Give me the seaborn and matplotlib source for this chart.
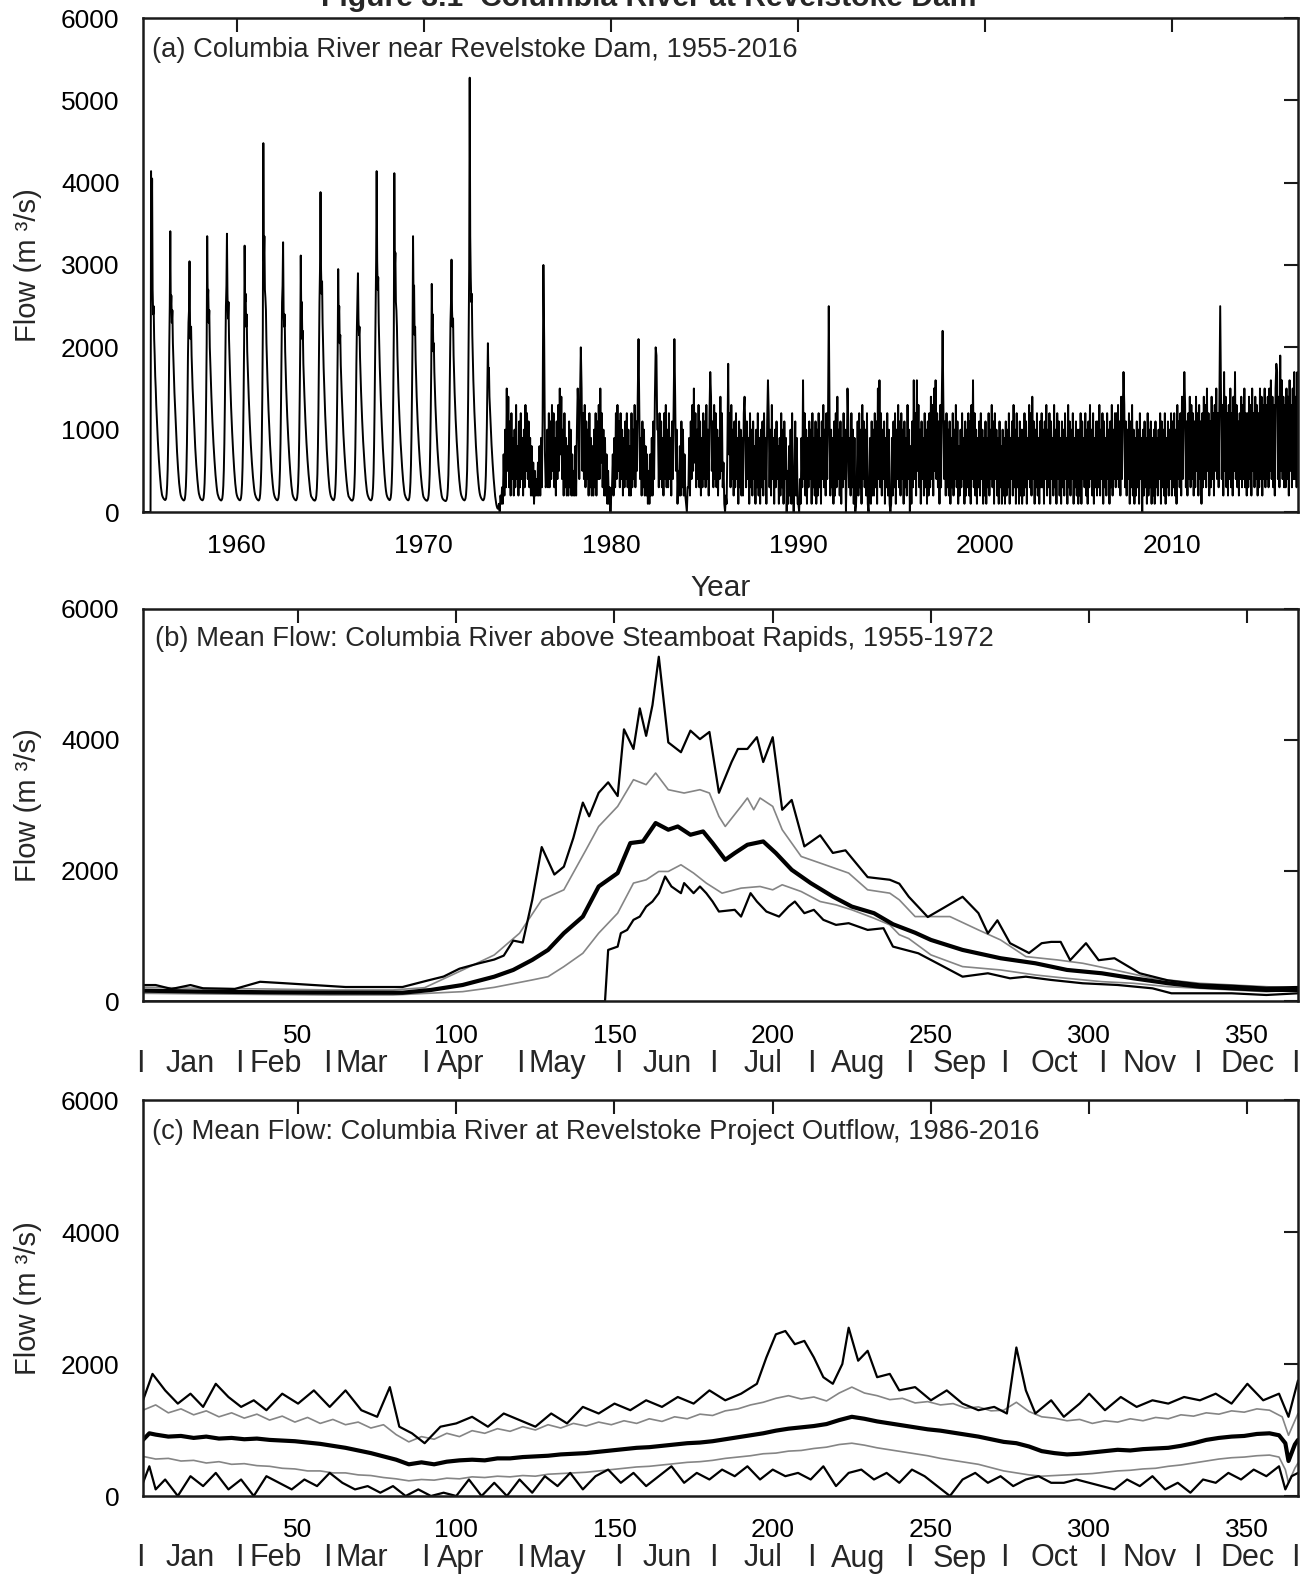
import numpy as np
import matplotlib
matplotlib.use("Agg")
import matplotlib.pyplot as plt
import seaborn as sns

# ------------------------------------------------------------------
# (a) Daily flow, Columbia River near Revelstoke Dam (m3/s)
# Pre-regulation years: 36 ten-day readings per year
# ------------------------------------------------------------------
PRE_1955_1964 = [
    [0, 0, 0, 0, 0, 0, 0, 0, 0, 0, 0, 0, 0, 0, 0, 4140, 2900, 4050, 2700, 2400, 2500, 2100, 1900, 1650, 1500, 1300, 1150, 1000, 870, 750, 640, 540, 450, 370, 300, 250],
    [210, 190, 175, 165, 155, 150, 145, 150, 165, 220, 330, 520, 850, 1350, 2000, 2500, 3410, 2450, 2630, 2300, 2450, 2050, 1850, 1650, 1450, 1300, 1120, 980, 850, 730, 620, 520, 430, 350, 290, 240],
    [205, 185, 170, 160, 150, 145, 140, 145, 160, 210, 310, 500, 820, 1300, 1900, 2300, 2450, 3045, 2300, 2100, 2250, 1900, 1700, 1500, 1350, 1180, 1040, 900, 780, 670, 570, 480, 400, 330, 270, 225],
    [200, 180, 165, 155, 148, 145, 142, 150, 170, 230, 350, 560, 900, 1400, 2050, 3350, 2550, 2700, 2300, 2450, 2000, 1800, 1600, 1420, 1250, 1100, 960, 840, 730, 630, 540, 450, 380, 315, 260, 220],
    [200, 180, 165, 155, 148, 142, 140, 148, 165, 215, 320, 510, 830, 1300, 1950, 2500, 2750, 3380, 2650, 2350, 2550, 2100, 1850, 1650, 1450, 1270, 1110, 970, 840, 720, 610, 510, 420, 345, 285, 235],
    [205, 185, 170, 160, 150, 145, 142, 150, 170, 225, 340, 540, 870, 1380, 2050, 3235, 2550, 2650, 2250, 2400, 1950, 1750, 1550, 1380, 1210, 1070, 930, 810, 700, 600, 510, 430, 360, 300, 250, 215],
    [195, 178, 165, 155, 148, 143, 140, 148, 165, 220, 330, 520, 860, 1400, 2200, 4480, 3050, 3350, 2700, 2600, 2450, 2050, 1800, 1600, 1400, 1230, 1080, 940, 810, 700, 590, 490, 410, 340, 280, 235],
    [205, 185, 170, 160, 150, 145, 142, 150, 170, 220, 330, 510, 830, 1320, 1950, 2550, 2750, 3276, 2450, 2250, 2400, 1950, 1700, 1500, 1320, 1160, 1020, 890, 770, 660, 560, 470, 390, 320, 265, 220],
    [195, 178, 165, 155, 148, 143, 142, 152, 175, 235, 350, 550, 900, 1400, 2050, 3115, 2350, 2550, 2100, 2200, 1800, 1600, 1420, 1250, 1100, 960, 840, 730, 630, 540, 460, 390, 320, 265, 220, 190],
    [180, 168, 158, 150, 143, 140, 138, 145, 160, 200, 290, 460, 780, 1250, 1900, 2550, 2950, 3885, 2950, 2650, 2800, 2300, 2000, 1750, 1550, 1350, 1180, 1030, 890, 760, 650, 540, 450, 370, 300, 250],
]
PRE_1965_1973 = [
    [215, 190, 175, 163, 153, 147, 143, 152, 172, 225, 340, 530, 860, 1350, 1950, 2950, 2350, 2500, 2050, 2150, 1780, 1580, 1400, 1240, 1090, 950, 830, 720, 620, 530, 450, 380, 315, 260, 220, 190],
    [180, 168, 158, 150, 143, 140, 138, 146, 162, 205, 300, 470, 780, 1220, 1800, 2250, 2550, 2900, 2350, 2150, 2250, 1880, 1650, 1460, 1290, 1130, 990, 860, 750, 640, 550, 460, 385, 320, 265, 225],
    [200, 182, 168, 157, 149, 144, 141, 148, 163, 205, 295, 470, 790, 1260, 1900, 2600, 3050, 4140, 3050, 2700, 2850, 2300, 2000, 1760, 1550, 1360, 1190, 1040, 900, 770, 660, 550, 460, 380, 310, 255],
    [215, 192, 176, 164, 154, 148, 144, 153, 175, 230, 350, 560, 900, 1450, 2200, 4115, 2950, 3150, 2550, 2450, 2250, 1900, 1650, 1450, 1280, 1120, 980, 850, 740, 630, 540, 450, 375, 310, 255, 215],
    [195, 178, 165, 155, 148, 143, 142, 152, 178, 240, 360, 570, 930, 1450, 2100, 3350, 2550, 2750, 2150, 2250, 1850, 1600, 1400, 1230, 1080, 950, 830, 720, 620, 530, 450, 380, 315, 260, 215, 185],
    [172, 162, 154, 147, 141, 138, 137, 146, 163, 205, 300, 460, 770, 1200, 1750, 2770, 2250, 2400, 1950, 2050, 1700, 1480, 1300, 1140, 1000, 870, 760, 660, 570, 490, 420, 350, 290, 240, 200, 175],
    [160, 152, 146, 141, 137, 134, 133, 142, 158, 200, 290, 450, 760, 1200, 1800, 2300, 2550, 3065, 2450, 2250, 2350, 1900, 1650, 1450, 1280, 1120, 980, 860, 750, 640, 550, 460, 385, 320, 265, 225],
    [200, 182, 168, 157, 149, 144, 141, 150, 167, 215, 320, 500, 850, 1380, 2200, 2950, 5275, 3350, 2850, 2550, 2650, 2150, 1850, 1600, 1400, 1220, 1070, 930, 800, 690, 590, 490, 410, 340, 280, 235],
    [205, 185, 170, 160, 150, 145, 142, 150, 168, 210, 290, 440, 700, 1050, 1550, 2050, 1650, 1750, 1400, 1250, 1100, 950, 820, 700, 600, 500, 410, 330, 260, 190, 140, 100, 70, 50, 40, 50],
]

# Regulated years: half-month readings, hundreds of m3/s
REG_1974_1979 = [
    "1 0 2 1 3 1 7 2 10 3 15 5 14 3 11 2 12 4 9 2 10 3 13 4",
    "8 2 11 3 12 4 9 2 10 3 13 5 12 4 11 3 9 2 8 2 6 1 5 2",
    "4 2 6 2 8 2 9 3 11 30 21 7 3 4 10 3 12 3 11 4 13 5 12 3",
    "9 2 11 4 13 5 15 7 14 4 10 2 12 3 9 2 8 2 11 3 10 2 7 2",
    "5 2 8 2 10 15 12 4 14 20 15 5 12 4 13 3 11 4 10 2 12 3 9 2",
    "8 2 10 3 12 2 11 4 13 4 15 6 12 3 10 2 9 2 7 1 5 1 3 0",
]
REG_1980_1989 = [
    "2 3 7 2 9 3 12 4 13 5 11 3 12 4 10 2 9 3 11 4 12 3 10 2",
    "8 2 12 3 10 4 13 3 11 5 14 21 12 4 9 2 11 3 10 2 8 2 7 1",
    "5 1 7 2 9 2 11 4 14 20 19 10 10 3 12 4 11 3 9 2 12 4 13 3",
    "10 3 12 4 9 2 11 4 13 21 14 5 10 1 5 2 8 2 11 3 10 2 7 2",
    "1 0 3 3 9 2 11 4 13 5 15 6 12 3 10 4 13 3 11 2 9 3 12 4",
    "11 3 13 4 10 2 12 17 14 5 11 3 13 4 12 3 10 2 9 4 14 5 12 3",
    "6 1 0 2 1 8 18 7 12 3 13 4 10 2 11 3 12 4 9 1 11 3 10 2",
    "9 2 12 14 10 3 11 4 9 1 12 3 10 2 11 4 8 1 10 3 12 2 9 1",
    "10 3 11 2 12 4 9 1 11 16 12 3 10 2 13 4 9 1 10 3 11 4 8 1",
    "9 2 12 3 10 1 11 4 9 0 5 1 8 2 10 1 12 3 0 4 11 2 9 1",
]
REG_1990_1999 = [
    "1 0 4 1 9 3 16 4 12 2 10 1 9 3 11 4 10 1 12 3 9 2 11 1",
    "10 2 12 3 9 1 11 4 13 3 10 2 12 4 11 25 12 2 10 3 9 1 11 2",
    "12 3 14 4 10 2 11 1 9 3 12 4 10 0 5 15 11 3 9 2 12 3 10 1",
    "9 0 1 4 11 2 12 3 10 1 13 4 11 3 10 2 12 1 0 3 9 1 11 2",
    "10 2 12 3 11 1 15 4 16 3 12 2 10 4 11 1 9 3 12 2 10 1 0 1",
    "9 2 11 3 12 1 10 4 13 3 11 2 12 4 10 1 11 3 9 2 13 4 10 0",
    "8 1 11 3 16 4 12 2 16 5 13 3 10 1 11 4 9 2 12 3 10 1 11 2",
    "12 3 14 4 13 2 15 5 16 4 12 3 11 1 13 3 14 22 13 4 11 2 12 3",
    "10 2 11 1 9 3 12 2 10 4 13 3 11 1 8 2 10 3 12 4 9 1 11 2",
    "10 3 12 2 11 1 13 4 16 3 12 2 10 1 9 3 11 2 12 4 10 1 9 2",
]
REG_2000_2009 = [
    "11 1 9 3 12 2 10 4 13 3 11 1 12 4 10 2 9 1 11 3 8 1 10 2",
    "9 1 11 2 10 3 12 1 9 4 11 2 13 3 10 1 12 3 9 1 11 2 10 1",
    "10 2 12 3 11 1 9 4 13 3 12 2 14 4 11 1 10 3 12 2 9 1 11 3",
    "12 3 10 1 11 4 13 2 10 3 12 1 11 4 9 2 13 3 10 1 12 4 11 2",
    "9 1 11 3 10 2 12 4 9 1 13 3 11 2 10 4 12 1 9 3 11 2 10 1",
    "10 2 12 1 11 4 9 3 12 2 10 1 11 3 13 4 10 2 12 1 9 3 11 2",
    "11 3 13 2 10 4 12 1 11 3 9 2 12 4 10 1 11 3 13 2 10 4 12 3",
    "12 4 13 3 11 2 14 4 12 17 13 3 11 2 10 4 12 1 11 3 13 2 10 1",
    "9 2 11 3 10 1 12 4 9 0 10 2 11 3 9 1 12 2 10 3 11 1 9 2",
    "10 1 11 3 9 2 10 4 12 1 11 3 10 2 12 1 9 3 11 2 10 4 12 2",
]
REG_2010_2016 = [
    "11 3 12 2 10 1 13 4 11 3 12 2 14 4 12 17 13 3 11 2 12 4 14 3",
    "13 4 12 2 11 3 14 5 12 2 13 4 11 1 12 3 14 4 13 3 15 5 12 2",
    "11 3 14 4 12 2 13 5 15 4 12 3 14 25 15 4 13 2 17 5 14 3 12 2",
    "13 4 15 3 12 2 14 5 17 4 13 3 11 2 12 4 14 3 13 4 15 3 12 2",
    "12 3 14 4 13 2 15 5 12 3 14 4 13 2 12 3 15 4 14 2 13 4 15 3",
    "13 4 14 3 15 5 16 4 14 3 13 2 15 18 17 4 14 3 19 5 16 4 14 3",
    "13 3 15 4 14 2 16 5 13 3 15 4 17 4 14 3 17 4 15 3 14 4 13 3",
]

# ------------------------------------------------------------------
# (b) Columbia River above Steamboat Rapids, 1955-1972: (day, m3/s)
# ------------------------------------------------------------------
B_MAX = [(1, 250), (5, 250), (10, 190), (16, 250), (20, 200), (30, 190), (38, 300), (45, 280),
         (55, 250), (65, 220), (75, 220), (83, 220), (91, 320), (96, 380), (101, 500), (107, 580),
         (112, 640), (115, 700), (118, 930), (121, 900), (124, 1550), (127, 2360), (131, 1940),
         (134, 2060), (137, 2500), (140, 3040), (142, 2830), (145, 3190), (148, 3350), (151, 3140),
         (153, 4160), (156, 3860), (158, 4480), (160, 4060), (162, 4530), (164, 5270), (167, 3960),
         (171, 3810), (174, 4140), (177, 4010), (180, 4120), (183, 3190), (187, 3660), (189, 3860),
         (192, 3860), (195, 4040), (197, 3660), (200, 4040), (203, 2930), (206, 3080), (210, 2370),
         (215, 2540), (219, 2270), (223, 2310), (230, 1900), (237, 1860), (240, 1800), (243, 1600),
         (249, 1290), (254, 1430), (260, 1600), (265, 1350), (268, 1040), (271, 1240), (275, 890),
         (281, 740), (285, 890), (288, 910), (291, 910), (294, 630), (299, 890), (303, 630),
         (308, 660), (316, 430), (325, 320), (335, 260), (345, 240), (356, 210), (366, 220)]
B_UPPER = [(1, 216), (20, 200), (40, 190), (60, 175), (80, 175), (90, 210), (102, 480), (112, 710),
           (120, 1043), (127, 1553), (134, 1706), (141, 2318), (145, 2675), (151, 2982), (156, 3390),
           (160, 3314), (163, 3492), (167, 3237), (172, 3186), (177, 3237), (180, 3186), (183, 2829),
           (185, 2675), (190, 2982), (192, 3110), (194, 2931), (196, 3110), (200, 2982), (203, 2625),
           (209, 2216), (215, 2115), (224, 1962), (230, 1706), (237, 1655), (240, 1553), (245, 1297),
           (256, 1297), (265, 1093), (272, 940), (280, 685), (290, 634), (298, 583), (308, 481),
           (320, 353), (335, 277), (366, 200)]
B_MEAN = [(1, 164), (20, 150), (40, 140), (60, 135), (83, 133), (92, 175), (102, 251), (112, 378),
          (118, 481), (124, 634), (129, 787), (134, 1043), (140, 1297), (145, 1757), (151, 1962),
          (155, 2421), (159, 2446), (163, 2727), (167, 2625), (170, 2675), (174, 2548), (178, 2599),
          (181, 2421), (185, 2165), (188, 2268), (192, 2395), (197, 2446), (201, 2268), (206, 2012),
          (212, 1809), (219, 1603), (225, 1450), (232, 1349), (238, 1180), (245, 1050), (250, 940),
          (260, 787), (272, 660), (283, 583), (293, 481), (304, 430), (314, 353), (325, 277),
          (335, 225), (356, 175), (366, 175)]
B_LOWER = [(1, 124), (30, 110), (60, 98), (80, 98), (102, 149), (112, 215), (124, 328), (129, 378),
           (134, 532), (140, 736), (145, 1043), (151, 1349), (156, 1809), (160, 1859), (164, 1987),
           (167, 1987), (171, 2089), (175, 1962), (179, 1809), (184, 1655), (190, 1732), (196, 1757),
           (200, 1706), (203, 1783), (209, 1680), (215, 1527), (220, 1476), (225, 1400), (232, 1272),
           (237, 1170), (240, 1020), (243, 960), (250, 711), (260, 532), (272, 481), (283, 404),
           (293, 353), (304, 302), (314, 277), (325, 225), (335, 200), (356, 149), (366, 175)]
B_MIN = [(1, 0), (147, 0), (148, 787), (151, 838), (152, 1043), (154, 1093), (156, 1247), (158, 1297),
         (160, 1450), (162, 1527), (164, 1655), (166, 1910), (168, 1757), (171, 1655), (172, 1809),
         (175, 1655), (177, 1757), (179, 1655), (181, 1527), (183, 1374), (188, 1400), (190, 1297),
         (193, 1655), (195, 1527), (198, 1374), (202, 1297), (205, 1450), (207, 1527), (210, 1349),
         (213, 1400), (216, 1247), (220, 1170), (224, 1196), (230, 1093), (235, 1119), (238, 838),
         (242, 787), (246, 736), (254, 532), (260, 378), (268, 430), (275, 353), (280, 378),
         (288, 328), (298, 277), (309, 251), (320, 200), (326, 124), (345, 124), (356, 98), (366, 124)]

# ------------------------------------------------------------------
# (c) Revelstoke Project outflow, 1986-2016: (day, m3/s)
# ------------------------------------------------------------------
C_MAX = [(1, 1450), (4, 1850), (8, 1600), (12, 1400), (16, 1550), (20, 1350), (24, 1700), (28, 1500),
         (32, 1350), (36, 1450), (40, 1300), (45, 1550), (50, 1400), (55, 1600), (60, 1350), (65, 1600),
         (70, 1300), (75, 1200), (79, 1650), (82, 1050), (86, 950), (90, 800), (95, 1050), (100, 1100),
         (105, 1200), (110, 1050), (115, 1250), (120, 1150), (125, 1050), (130, 1250), (135, 1100),
         (140, 1350), (145, 1250), (150, 1400), (155, 1300), (160, 1450), (165, 1350), (170, 1500),
         (175, 1400), (180, 1600), (185, 1450), (190, 1550), (195, 1700), (198, 2100), (201, 2450),
         (204, 2500), (207, 2300), (210, 2350), (213, 2100), (216, 1800), (219, 1700), (222, 2000),
         (224, 2550), (227, 2050), (230, 2200), (233, 1800), (237, 1850), (240, 1600), (245, 1650),
         (250, 1450), (255, 1600), (260, 1400), (265, 1300), (270, 1350), (274, 1250), (277, 2250),
         (280, 1600), (283, 1250), (288, 1450), (292, 1200), (297, 1400), (300, 1550), (305, 1300),
         (310, 1500), (315, 1350), (320, 1450), (325, 1400), (330, 1500), (335, 1450), (340, 1550),
         (345, 1400), (350, 1700), (355, 1450), (360, 1550), (363, 1200), (366, 1750)]
C_UPPER = [(1, 1300), (5, 1380), (9, 1260), (13, 1320), (17, 1230), (21, 1290), (25, 1200), (29, 1260),
           (33, 1180), (37, 1240), (41, 1150), (45, 1210), (49, 1120), (53, 1190), (57, 1100), (61, 1160),
           (65, 1080), (69, 1120), (73, 1030), (77, 1080), (81, 930), (85, 820), (89, 900), (93, 860),
           (97, 950), (101, 900), (105, 990), (109, 950), (113, 1020), (117, 980), (121, 1050),
           (125, 1000), (129, 1080), (133, 1030), (137, 1100), (141, 1060), (145, 1120), (149, 1080),
           (153, 1140), (157, 1100), (161, 1170), (165, 1130), (169, 1200), (173, 1170), (177, 1240),
           (181, 1220), (185, 1290), (189, 1320), (193, 1380), (197, 1420), (201, 1480), (205, 1520),
           (209, 1470), (213, 1500), (217, 1440), (221, 1560), (225, 1650), (229, 1560), (233, 1520),
           (237, 1460), (241, 1480), (245, 1410), (249, 1430), (253, 1380), (257, 1400), (261, 1330),
           (265, 1350), (269, 1290), (273, 1300), (277, 1420), (281, 1280), (285, 1200), (289, 1180),
           (293, 1140), (297, 1160), (301, 1100), (305, 1140), (309, 1120), (313, 1170), (317, 1140),
           (321, 1190), (325, 1170), (329, 1230), (333, 1210), (337, 1260), (341, 1240), (345, 1290),
           (349, 1270), (353, 1320), (357, 1300), (361, 1200), (363, 920), (366, 1250)]
C_MEAN = [(1, 850), (3, 950), (5, 930), (9, 900), (13, 910), (17, 880), (21, 900), (25, 870), (29, 880),
          (33, 860), (37, 870), (41, 850), (45, 840), (49, 830), (53, 810), (57, 790), (61, 760), (65, 730),
          (69, 690), (73, 650), (77, 600), (81, 550), (85, 480), (89, 510), (93, 480), (97, 520), (101, 540),
          (105, 550), (109, 540), (113, 570), (117, 570), (121, 590), (125, 600), (129, 610), (133, 630),
          (137, 640), (141, 650), (145, 670), (149, 690), (153, 710), (157, 730), (161, 740), (165, 760),
          (169, 780), (173, 800), (177, 810), (181, 830), (185, 860), (189, 890), (193, 920), (197, 950),
          (201, 990), (205, 1020), (209, 1040), (213, 1060), (217, 1090), (221, 1150), (225, 1200),
          (229, 1170), (233, 1130), (237, 1100), (241, 1070), (245, 1040), (249, 1010), (253, 990),
          (257, 960), (261, 930), (265, 900), (269, 860), (273, 820), (277, 800), (281, 750), (285, 680),
          (289, 650), (293, 630), (297, 640), (301, 660), (305, 680), (309, 700), (313, 690), (317, 710),
          (321, 720), (325, 730), (329, 760), (333, 800), (337, 850), (341, 880), (345, 900), (349, 910),
          (353, 940), (357, 950), (360, 920), (362, 800), (363, 530), (365, 780), (366, 850)]
C_LOWER = [(1, 600), (5, 560), (9, 570), (13, 530), (17, 540), (21, 500), (25, 520), (29, 480), (33, 490),
           (37, 460), (41, 450), (45, 420), (49, 410), (53, 380), (57, 380), (61, 350), (65, 350), (69, 320),
           (73, 310), (77, 280), (81, 260), (85, 230), (89, 250), (93, 240), (97, 270), (101, 260),
           (105, 290), (109, 280), (113, 300), (117, 290), (121, 310), (125, 300), (129, 330), (133, 340),
           (137, 350), (141, 360), (145, 380), (149, 400), (153, 420), (157, 440), (161, 450), (165, 470),
           (169, 490), (173, 510), (177, 520), (181, 540), (185, 570), (189, 590), (193, 610), (197, 640),
           (201, 650), (205, 680), (209, 690), (213, 720), (217, 740), (221, 780), (225, 800), (229, 770),
           (233, 730), (237, 700), (241, 670), (245, 640), (249, 610), (253, 570), (257, 540), (261, 510),
           (265, 480), (269, 430), (273, 380), (277, 350), (281, 320), (285, 300), (289, 310), (293, 320),
           (297, 330), (301, 340), (305, 360), (309, 380), (313, 390), (317, 410), (321, 420), (325, 450),
           (329, 470), (333, 500), (337, 530), (341, 560), (345, 580), (349, 590), (353, 610), (357, 620),
           (360, 590), (362, 400), (363, 200), (365, 420), (366, 500)]
C_MIN = [(1, 200), (3, 450), (5, 100), (8, 250), (12, 0), (16, 300), (20, 150), (24, 350), (28, 100),
         (32, 250), (36, 0), (40, 300), (44, 200), (48, 100), (52, 250), (56, 150), (60, 350), (64, 200),
         (68, 100), (72, 150), (76, 50), (80, 150), (84, 0), (88, 100), (92, 0), (96, 50), (100, 0),
         (104, 250), (108, 0), (112, 200), (116, 0), (120, 250), (124, 50), (128, 300), (132, 150),
         (136, 350), (140, 100), (144, 300), (148, 400), (152, 200), (156, 350), (160, 150), (164, 300),
         (168, 450), (172, 200), (176, 350), (180, 250), (184, 400), (188, 300), (192, 450), (196, 250),
         (200, 400), (204, 300), (208, 350), (212, 250), (216, 450), (220, 150), (224, 350), (228, 400),
         (232, 250), (236, 350), (240, 200), (244, 400), (248, 300), (252, 150), (256, 0), (260, 250),
         (264, 350), (268, 200), (272, 300), (276, 150), (280, 250), (284, 300), (288, 200), (292, 200),
         (296, 250), (300, 200), (304, 150), (308, 100), (312, 250), (316, 150), (320, 300), (324, 100),
         (328, 200), (332, 50), (336, 250), (340, 200), (344, 350), (348, 250), (352, 400), (356, 300),
         (360, 450), (362, 100), (364, 300), (366, 350)]

YEAR_TICKS = [1960, 1970, 1980, 1990, 2000, 2010]
DAY_TICKS = [50, 100, 150, 200, 250, 300, 350]
FLOW_TICKS_A = [0, 1000, 2000, 3000, 4000, 5000, 6000]
FLOW_TICKS_BC = [0, 2000, 4000, 6000]
MONTHS = ["Jan", "Feb", "Mar", "Apr", "May", "Jun", "Jul", "Aug", "Sep", "Oct", "Nov", "Dec"]
MONTH_EDGES = [0, 31, 59, 90, 120, 151, 181, 212, 243, 273, 304, 334, 365]
MONTH_CENTRES = [16, 43, 70, 101.5, 132, 166.5, 197, 227, 259, 289, 319, 350]

# ------------------------------------------------------------------
sns.set_theme(style="white")
plt.rcParams["font.family"] = ["Liberation Sans", "DejaVu Sans"]
plt.rcParams["axes.linewidth"] = 1.8
plt.rcParams["axes.edgecolor"] = "#1a1a1a"

W, H = 1306, 1574
fig = plt.figure(figsize=(W / 100, H / 100), dpi=100)


def box(left, top, right, bottom):
    return [left / W, 1 - bottom / H, (right - left) / W, (bottom - top) / H]


PANELS = [(18, 512), (609, 1001.4), (1100, 1496)]
ax_a = fig.add_axes(box(143, PANELS[0][0], 1298, PANELS[0][1]))
ax_b = fig.add_axes(box(143, PANELS[1][0], 1298, PANELS[1][1]))
ax_c = fig.add_axes(box(143, PANELS[2][0], 1298, PANELS[2][1]))

# ---- assemble the flow series for panel (a)
times, flows = [], []
for i, row in enumerate(PRE_1955_1964 + PRE_1965_1973):
    yr = 1955 + i
    n = len(row)
    times += [yr + (k + 0.5) / n for k in range(n)]
    flows += list(row)
reg_rows = REG_1974_1979 + REG_1980_1989 + REG_1990_1999 + REG_2000_2009 + REG_2010_2016
for i, txt in enumerate(reg_rows):
    yr = 1974 + i
    vals = [float(v) * 100 for v in txt.split()]
    n = len(vals)
    times += [yr + (k + 0.5) / n for k in range(n)]
    flows += vals

sns.lineplot(x=np.array(times), y=np.array(flows), ax=ax_a, color="black", lw=1.4,
             estimator=None, sort=False)


def draw_stats(ax, mx, up, mean, lo, mn):
    for series, col, lw in [(up, "#858585", 1.2), (lo, "#858585", 1.2),
                            (mx, "black", 1.6), (mn, "black", 1.6), (mean, "black", 3.0)]:
        arr = np.array(series, dtype=float)
        sns.lineplot(x=arr[:, 0], y=arr[:, 1], ax=ax, color=col, lw=lw,
                     estimator=None, sort=False)


draw_stats(ax_b, B_MAX, B_UPPER, B_MEAN, B_LOWER, B_MIN)
draw_stats(ax_c, C_MAX, C_UPPER, C_MEAN, C_LOWER, C_MIN)

TICK_FS = 19

for ax in (ax_a, ax_b, ax_c):
    ax.set_ylim(0, 6000)
    ax.tick_params(axis="both", which="both", direction="in", length=10, width=1.5,
                   top=True, right=True, labelsize=TICK_FS, colors="#1a1a1a",
                   labelcolor="black")
    ax.tick_params(axis="x", pad=16)
    ax.tick_params(axis="y", pad=17)
    ax.set_xlabel("")
    ax.set_ylabel("")
    for s in ax.spines.values():
        s.set_visible(True)

ax_a.set_xlim(1955.0, 2016.72)
ax_a.set_xticks(YEAR_TICKS)
ax_a.set_yticks(FLOW_TICKS_A)
ax_a.set_xlabel("Year", fontsize=21.5, labelpad=11)

for ax in (ax_b, ax_c):
    ax.set_xlim(1, 366)
    ax.set_xticks(DAY_TICKS)
    ax.set_yticks(FLOW_TICKS_BC)
    for d in MONTH_EDGES:
        ax.annotate("I", xy=(d + 0.3, 0), xycoords=("data", "axes fraction"),
                    xytext=(0, -45), textcoords="offset points",
                    ha="center", va="center", fontsize=22)
    for name, d in zip(MONTHS, MONTH_CENTRES):
        ax.annotate(name, xy=(d, 0), xycoords=("data", "axes fraction"),
                    xytext=(0, -45), textcoords="offset points",
                    ha="center", va="center", fontsize=22)

ax_a.text(0.0078, 0.935, "(a) Columbia River near Revelstoke Dam, 1955-2016",
          transform=ax_a.transAxes, fontsize=19.7, va="center", ha="left")
ax_b.text(0.0104, 0.9235, "(b) Mean Flow: Columbia River above Steamboat Rapids, 1955-1972",
          transform=ax_b.transAxes, fontsize=19.7, va="center", ha="left")
ax_c.text(0.0078, 0.919, "(c) Mean Flow: Columbia River at Revelstoke Project Outflow, 1986-2016",
          transform=ax_c.transAxes, fontsize=19.7, va="center", ha="left")

for top, bottom in PANELS:
    fig.text(28 / W, 1 - (top + bottom) / 2 / H, "Flow (m \u00b3/s)", rotation=90,
             ha="center", va="center", fontsize=21)

fig.text(649 / W, 1 - 6 / H, "Figure 3.1  Columbia River at Revelstoke Dam",
         ha="center", va="baseline", fontsize=21.7, fontweight="bold")

fig.savefig("out.png", dpi=100)
